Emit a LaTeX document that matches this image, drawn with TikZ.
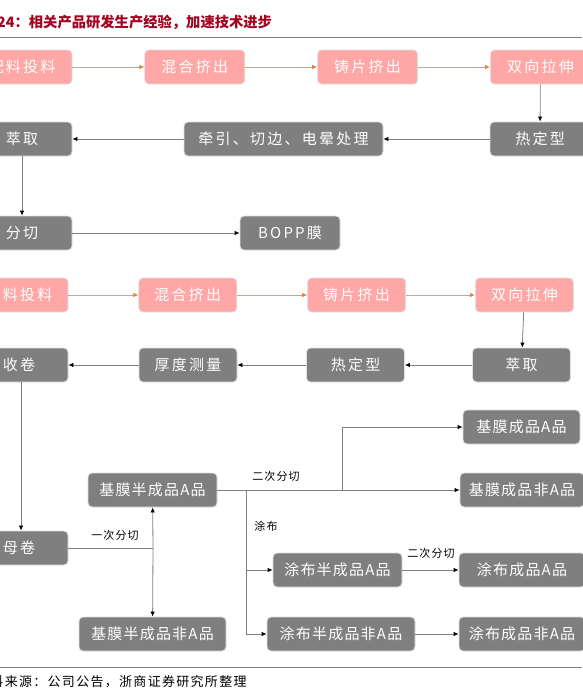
\documentclass[tikz,border=0pt]{standalone}
\usepackage{fontspec}
\setmainfont{Noto Sans CJK SC}
\usepackage{tikz}
\usetikzlibrary{arrows.meta,positioning}
\definecolor{boxpink}{RGB}{255,166,166}
\definecolor{boxgray}{RGB}{127,127,127}
\definecolor{titlered}{RGB}{165,0,30}
\definecolor{tiporange}{RGB}{237,125,49}
\definecolor{linetan}{RGB}{185,170,160}

\begin{document}
\begin{tikzpicture}[x=1pt,y=-1pt,
   box/.style={draw=black!12,line width=0.8pt,rounded corners=4pt,minimum width=100pt,
               minimum height=34pt,inner sep=0pt,text=white,
               font=\fontsize{15}{15}\selectfont\addfontfeature{LetterSpace=15}},
   pbox/.style={box,fill=boxpink},
   gbox/.style={box,fill=boxgray},
   sbox/.style={gbox,font=\fontsize{15}{15}\selectfont\addfontfeature{LetterSpace=8}},
   parrow/.style={draw=linetan,line width=0.8pt,-{Latex[length=5pt,width=4.5pt,color=tiporange]}},
   garrow/.style={draw=boxgray,line width=0.8pt,-{Latex[length=5pt,width=4.5pt,color=black]}},
   gline/.style={draw=boxgray,line width=0.8pt},
   lab/.style={font=\fontsize{11}{11}\selectfont\addfontfeature{LetterSpace=10},text=black}]
  \useasboundingbox (0,0) rectangle (582,691);
  % title and rules
  \node[anchor=west,inner sep=0pt,text=titlered,font=\fontsize{14.3}{14.3}\selectfont\bfseries]
       (title) at (-3,22) {24：相关产品研发生产经验，加速技术进步};
  \draw[gline] (0,37) -- (582,37);
  \draw[gline] (0,667) -- (582,667);
  \node[anchor=west,inner sep=0pt,font=\fontsize{13}{13}\selectfont\addfontfeature{LetterSpace=10}]
       (src) at (-24,682) {资料来源：公司公告，浙商证券研究所整理};

  % first line
  \node[pbox] (mix1) at (22,67) {配料投料};
  \node[pbox,right=72pt of mix1] (ext1) {混合挤出};
  \node[pbox,right=72pt of ext1] (cast1) {铸片挤出};
  \node[pbox,right=72pt of cast1] (draw1) {双向拉伸};
  \node[gbox] (heat1) at (540,139) {热定型};
  \node[gbox,minimum width=199pt] (trim1) at (283.5,139) {牵引、切边、电晕处理};
  \node[gbox] (extr1) at (22,139) {萃取};
  \node[gbox] (slit1) at (22,233) {分切};
  \node[gbox] (bopp) at (290,233) {BOPP膜};
  \draw[parrow] (mix1) -- (ext1);
  \draw[parrow] (ext1) -- (cast1);
  \draw[parrow] (cast1) -- (draw1);
  \draw[garrow] (draw1) -- (heat1);
  \draw[garrow] (heat1) -- (trim1);
  \draw[garrow] (trim1) -- (extr1);
  \draw[garrow] (extr1) -- (slit1);
  \draw[garrow] (slit1) -- (bopp);

  % second line
  \node[pbox,minimum width=98pt] (mix2) at (19,295) {配料投料};
  \node[pbox,minimum width=98pt,right=70pt of mix2] (ext2) {混合挤出};
  \node[pbox,minimum width=98pt,right=70pt of ext2] (cast2) {铸片挤出};
  \node[pbox,minimum width=98pt,right=69pt of cast2] (draw2) {双向拉伸};
  \node[gbox,minimum width=98pt] (extr2) at (521.5,365) {萃取};
  \node[gbox,minimum width=98pt] (heat2) at (355.5,365) {热定型};
  \node[gbox,minimum width=98pt] (thick2) at (188,365) {厚度测量};
  \node[gbox,minimum width=98pt] (wind2) at (19,365) {收卷};
  \draw[parrow] (mix2) -- (ext2);
  \draw[parrow] (ext2) -- (cast2);
  \draw[parrow] (cast2) -- (draw2);
  \draw[garrow] (draw2) -- (extr2);
  \draw[garrow] (extr2) -- (heat2);
  \draw[garrow] (heat2) -- (thick2);
  \draw[garrow] (thick2) -- (wind2);

  % slitting and coating
  \node[gbox,minimum width=98pt] (mroll) at (19,548) {母卷};
  \node[sbox,minimum width=129pt] (baseA) at (152.5,490) {基膜半成品A品};
  \node[sbox,minimum width=147pt] (baseN) at (152.5,634) {基膜半成品非A品};
  \node[sbox,minimum width=117pt] (filmA) at (521.5,427) {基膜成品A品};
  \node[sbox,minimum width=124pt] (filmN) at (522,490) {基膜成品非A品};
  \node[sbox,minimum width=129pt] (coatA) at (337.5,570) {涂布半成品A品};
  \node[sbox,minimum width=148pt] (coatN) at (341,634) {涂布半成品非A品};
  \node[sbox,minimum width=126pt] (endA) at (522,570) {涂布成品A品};
  \node[sbox,minimum width=126pt] (endN) at (522,634) {涂布成品非A品};
  \coordinate (cut1) at (153,548);
  \coordinate (cut2) at (342,490);
  \coordinate (coat) at (246,490);
  \draw[garrow] (wind2.south -| 21,0) -- (mroll.north -| 21,0);
  \draw[gline] (mroll) -- (cut1);
  \draw[garrow] (cut1) -- (baseA);
  \draw[garrow] (cut1) -- (baseN);
  \draw[gline] (baseA) -- (cut2);
  \draw[garrow] (cut2) |- (filmA);
  \draw[garrow] (cut2) -- (filmN);
  \draw[gline] (coat) -- (coat |- coatN);
  \draw[garrow] (coat |- coatA) -- (coatA);
  \draw[garrow] (coat |- coatN) -- (coatN);
  \draw[garrow] (coatA) -- (endA);
  \draw[garrow] (coatN) -- (endN);
  \node[lab] (l1) at (115,535) {一次分切};
  \node[lab] (l2) at (276,476) {二次分切};
  \node[lab] (l3) at (266,526) {涂布};
  \node[lab] (l4) at (431,553) {二次分切};
\end{tikzpicture}
\end{document}
